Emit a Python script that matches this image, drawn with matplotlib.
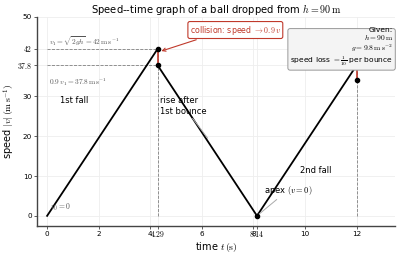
import matplotlib
matplotlib.use("Agg")
import matplotlib.pyplot as plt

plt.rcParams['mathtext.fontset'] = 'cm'
plt.rcParams['font.family'] = ['DejaVu Sans']

# event times (s) and speeds (m/s)
t_fall1 = [0.0, 4.29]
v_fall1 = [0.0, 42.0]
t_rise1 = [4.29, 8.14]
v_rise1 = [37.8, 0.0]
t_fall2 = [8.14, 12.0]
v_fall2 = [0.0, 37.8]
t_bounce = [4.29, 12.0]
v_before = [42.0, 37.8]
v_after = [37.8, 34.02]
dot_t = [4.29, 4.29, 8.14, 12.0]
dot_v = [42.0, 37.8, 0.0, 34.02]

xticks = [0, 2, 4, 4.29, 6, 8, 8.14, 10, 12]
xticklabels = ['0', '2', '4', '4.29', '6', '8', '8.14', '10', '12']
yticks = [0, 10, 20, 30, 37.8, 42, 50]
yticklabels = ['0', '10', '20', '30', '37.8', '42', '50']
serif_ticks = ['4.29', '8.14', '37.8', '42']

fig = plt.figure(figsize=(4, 2.56), dpi=100)
ax = fig.add_axes([0.092, 0.118, 0.896, 0.816])

ax.grid(color='#eeeeee', lw=0.6)
ax.set_axisbelow(True)

# guide lines
ax.plot([0, t_fall1[1]], [42, 42], ls='--', color='gray', lw=0.6)
ax.plot([0, t_rise1[0]], [37.8, 37.8], ls='--', color='gray', lw=0.6)
ax.plot([4.29, 4.29], [0, 42], ls='--', color='gray', lw=0.6)
ax.plot([12, 12], [0, 37.8], ls='--', color='gray', lw=0.6)

ax.plot(t_fall1, v_fall1, color='black', lw=1.3)
ax.plot(t_rise1, v_rise1, color='black', lw=1.3)
ax.plot(t_fall2, v_fall2, color='black', lw=1.3)
for tb, a, b in zip(t_bounce, v_before, v_after):
    ax.plot([tb, tb], [a, b], color='#c0392b', lw=1.2)
ax.plot(dot_t, dot_v, 'o', color='black', ms=3, zorder=5)

gray = '#555555'
ax.text(0.08, 44.0, r'$v_1=\sqrt{2gh}=42\,\mathrm{m\,s^{-1}}$', fontsize=5.3, color=gray, va='center')
ax.text(0.08, 33.6, r'$0.9\,v_1=37.8\,\mathrm{m\,s^{-1}}$', fontsize=5.3, color=gray, va='center')
ax.text(0.1, 2.2, r'$v_0=0$', fontsize=5.5, color=gray, va='center')
ax.text(0.5, 29, '1st fall', fontsize=6, va='center')
ax.text(9.8, 11.5, '2nd fall', fontsize=6, va='center')
ax.annotate('rise after\n1st bounce', xy=(6.23, 19.5), xytext=(4.37, 25.2), fontsize=6,
            ha='left', va='bottom',
            arrowprops=dict(arrowstyle='-', color='#aaaaaa', lw=0.7, shrinkA=0, shrinkB=0))
ax.annotate(r'apex $(v=0)$', xy=(8.14, 0), xytext=(8.4, 4.8), fontsize=6, ha='left', va='bottom',
            arrowprops=dict(arrowstyle='-', color='#aaaaaa', lw=0.7, shrinkA=0, shrinkB=0))
ax.annotate(r'collision: speed $\to 0.9\,v$', xy=(4.33, 41.2), xytext=(7.3, 46.7),
            fontsize=5.7, color='#c0392b', ha='center', va='center',
            bbox=dict(boxstyle='round,pad=0.25', fc='white', ec='#c0392b', lw=0.8),
            arrowprops=dict(arrowstyle='->', color='#c0392b', lw=0.8, relpos=(0.18, 0.0)))
ax.text(0.994, 0.952, 'Given:\n' + r'$h=90\,\mathrm{m}$' + '\n' + r'$g=9.8\,\mathrm{m\,s^{-2}}$' + '\n'
        + r'speed loss $=\frac{1}{10}$ per bounce', transform=ax.transAxes, fontsize=5.4,
        ha='right', va='top', linespacing=1.05,
        bbox=dict(boxstyle='round,pad=0.3', fc='#f4f4f4', ec='#999999', lw=0.7))

ax.set_xlim(-0.4, 13.5)
ax.set_ylim(-2.5, 50)
ax.set_xticks(xticks)
ax.set_xticklabels(xticklabels)
ax.set_yticks(yticks)
ax.set_yticklabels(yticklabels)
ax.tick_params(labelsize=5.2, length=2, width=0.6, pad=1.5, color='#444444')
for lab in ax.get_xticklabels() + ax.get_yticklabels():
    if lab.get_text() in serif_ticks:
        lab.set_fontfamily('cmr10')
        lab.set_fontsize(5.6)
for s in ['top', 'right']:
    ax.spines[s].set_visible(False)
for s in ['left', 'bottom']:
    ax.spines[s].set_color('#444444')
    ax.spines[s].set_linewidth(1.0)

ax.set_title(r'Speed--time graph of a ball dropped from $h=90\,\mathrm{m}$', fontsize=7.2, pad=3)
ax.set_xlabel(r'time $t\,(\mathrm{s})$', fontsize=7, labelpad=1)
ax.set_ylabel(r'speed $|v|\,(\mathrm{m\,s^{-1}})$', fontsize=7, labelpad=1)

fig.savefig('out.png', dpi=100)
